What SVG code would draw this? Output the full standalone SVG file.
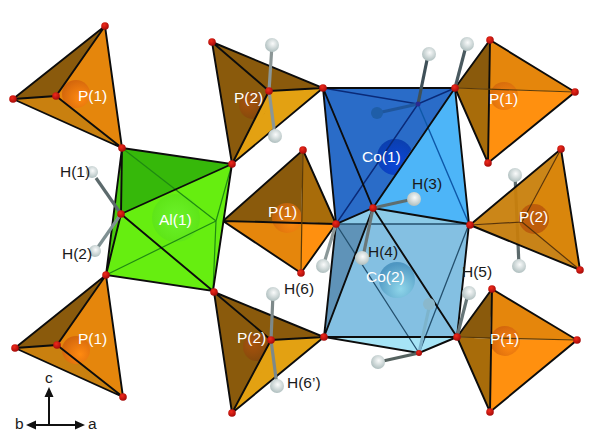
<svg xmlns="http://www.w3.org/2000/svg" width="600" height="437" viewBox="0 0 600 437">
<style>
text{font-family:"Liberation Sans",Arial,sans-serif;font-size:15.500px}
.w{fill:#fff}.k{fill:#1a1a1a}
.l{fill:none;stroke:#0c0c0c;stroke-width:1.900;stroke-linecap:round}
.d{fill:#8a5a0c}.m{fill:#c9800f}.o{fill:#e5860c}.b{fill:#ff900f}.g{fill:#e3a112}.n{fill:#a86c0a}
.v{fill:url(#red)}
.h{fill:url(#hyd)}
.rod{fill:none;stroke:#5c6a6c;stroke-width:3.200;stroke-linecap:butt}
</style>
<defs>
<radialGradient id="red" cx=".4" cy=".35" r=".7"><stop offset="0" stop-color="#f02a1a"/><stop offset="1" stop-color="#a00808"/></radialGradient>
<radialGradient id="hyd" cx=".55" cy=".4" r=".65"><stop offset="0" stop-color="#fafbfb"/><stop offset="1" stop-color="#a9baba"/></radialGradient>
<radialGradient id="po" cx=".65" cy=".65" r=".7"><stop offset="0" stop-color="#ff8a10"/><stop offset="1" stop-color="#d2650c"/></radialGradient>
<radialGradient id="pd" cx=".35" cy=".4" r=".75"><stop offset="0" stop-color="#a8520c"/><stop offset="1" stop-color="#7d480c"/></radialGradient>
<radialGradient id="al" cx=".5" cy=".5" r=".55"><stop offset="0" stop-color="#6cf22a"/><stop offset="1" stop-color="#5de416"/></radialGradient>
<radialGradient id="co1" cx=".55" cy=".7" r=".7"><stop offset="0" stop-color="#0c46d8"/><stop offset="1" stop-color="#0b3fae"/></radialGradient>
<radialGradient id="co2" cx=".6" cy=".75" r=".7"><stop offset="0" stop-color="#8fd6ea"/><stop offset="1" stop-color="#4f97c2"/></radialGradient>
</defs>

<g id="P1-top-left">
<polygon class="d" points="13,99 105,26 56,96"/>
<polygon class="m" points="13,99 56,96 122,148"/>
<polygon class="o" points="105,26 122,148 56,96"/>
<circle cx="76" cy="94" r="14" fill="url(#po)"/>
<path class="l" d="M13,99L105,26L122,148L13,99M13,99L56,96L105,26M56,96L122,148"/>
<text class="w" x="78" y="101">P(1)</text>
</g>

<g id="P1-bottom-left">
<polygon class="d" points="15,348 106,275 57,345"/>
<polygon class="m" points="15,348 57,345 123,397"/>
<polygon class="o" points="106,275 123,397 57,345"/>
<circle cx="76" cy="350" r="14" fill="url(#po)"/>
<path class="l" d="M15,348L106,275L123,397L15,348M15,348L57,345L106,275M57,345L123,397"/>
<text class="w" x="78" y="344">P(1)</text>
</g>

<g id="P2-top">
<polygon class="d" points="212,42 323,88 269,91"/>
<polygon class="d" points="212,42 269,91 232,164"/>
<polygon class="g" points="269,91 323,88 232,164"/>
<circle cx="253" cy="105" r="14" fill="url(#pd)"/>
<polygon class="g" points="269,91 280,90 232,164"/>
<path class="l" d="M212,42L323,88L232,164L212,42M212,42L269,91L323,88M269,91L232,164"/>
<text class="w" x="234" y="103">P(2)</text>
</g>

<g id="P2-bottom">
<polygon class="d" points="214,292 324,337 271,340"/>
<polygon class="d" points="214,292 271,340 232,413"/>
<polygon class="g" points="271,340 324,337 232,413"/>
<circle cx="257" cy="347" r="14" fill="url(#pd)"/>
<polygon class="g" points="271,340 285,339 232,413"/>
<path class="l" d="M214,292L324,337L232,413L214,292M214,292L271,340L324,337M271,340L232,413"/>
<text class="w" x="237" y="343">P(2)</text>
</g>

<g id="P1-middle">
<polygon class="d" points="223,221 303,150 301,222"/>
<polygon class="n" points="303,150 336,224 301,222"/>
<polygon class="o" points="223,221 301,222 301,273"/>
<polygon class="b" points="301,222 336,224 301,273"/>
<circle cx="287" cy="218" r="15" fill="url(#po)" opacity=".75"/>
<path class="l" d="M223,221L303,150L336,224L301,273L223,221M223,221L336,224"/>
<path class="l" style="stroke-width:1.200;stroke:#5a3a08" d="M303,150L301,273"/>
<text class="w" x="268" y="217">P(1)</text>
</g>

<g id="P1-right-top">
<polygon class="d" points="455,88 490,40 489,89"/>
<polygon class="o" points="490,40 575,92 489,89"/>
<polygon class="n" points="455,88 489,89 488,163"/>
<polygon class="b" points="489,89 575,92 488,163"/>
<circle cx="504" cy="96" r="14" fill="url(#po)" opacity=".8"/>
<path class="l" d="M455,88L490,40L575,92L488,163L455,88M490,40L488,163"/>
<path class="l" style="stroke-width:1.200;stroke:#5a3a08" d="M455,88L575,92"/>
<text class="w" x="489" y="104">P(1)</text>
</g>

<g id="P1-right-bottom">
<polygon class="d" points="457,337 492,289 490,339"/>
<polygon class="o" points="492,289 577,340 490,339"/>
<polygon class="n" points="457,337 490,339 490,412"/>
<polygon class="b" points="490,339 577,340 490,412"/>
<circle cx="505" cy="341" r="15" fill="url(#po)"/>
<path class="l" d="M457,337L492,289L577,340L490,412L457,337M492,289L490,412"/>
<path class="l" style="stroke-width:1.200;stroke:#5a3a08" d="M457,337L577,340"/>
<text class="w" x="490" y="344">P(1)</text>
</g>

<g id="H-behind-P2-right">
<path class="rod" d="M515,175L519,266"/>
<circle class="h" cx="515" cy="175" r="7"/>
<circle class="h" cx="519" cy="266" r="7"/>
</g>

<g id="P2-right">
<polygon fill="#c8800c" opacity=".95" points="470,225 561,149 522,222"/>
<polygon fill="#d9860c" points="561,149 580,270 522,222"/>
<polygon fill="#c57c0c" opacity=".95" points="470,225 522,222 580,270"/>
<circle cx="534" cy="219" r="15" fill="#b8560c" opacity=".85"/>
<path class="l" d="M470,225L561,149L580,270L470,225"/>
<path class="l" style="stroke-width:1.200;stroke:#5a3408" d="M470,225L522,222L561,149M522,222L580,270"/>
<text class="w" x="519" y="222">P(2)</text>
</g>

<g id="Al1">
<polygon fill="#66ee10" points="232,164 213,291 106,275 121,214"/>
<polygon fill="#36b80a" points="122,148 232,164 121,214"/>
<polygon fill="#48c80e" points="122,148 121,214 106,275"/>
<circle cx="176" cy="218" r="24" fill="url(#al)"/>
<path class="l" style="stroke-width:1.200;stroke:#1f8a12" d="M122,148L216,221M106,275L216,221M232,164L216,221M213,291L216,221"/>
<path class="l" d="M122,148L232,164L213,291L106,275L122,148M121,214L232,164M121,214L213,291M121,214L122,148M121,214L106,275"/>
<text class="w" x="159" y="225">Al(1)</text>
</g>

<g id="Co2">
<polygon fill="#a6e4f6" points="336,224 469,224 457,337 419,353 324,337"/>
<polygon fill="#84c0e2" points="336,224 469,224 457,337 324,337"/>
<polygon fill="#5f93b8" points="336,224 373,208 324,337"/>
<polygon fill="#8ccbe8" points="373,208 336,224 469,224"/>
<circle cx="397" cy="280" r="18" fill="url(#co2)"/>
<path class="l" style="stroke-width:1.300;stroke:#24506e" d="M336,224L419,353M469,224L419,353M336,224L469,224"/>
<path class="l" d="M336,224L324,337L419,353L457,337L469,224M324,337L457,337M373,208L324,337M373,208L457,337"/>
<text class="w" x="366" y="282">Co(2)</text>
</g>

<g id="Co1">
<polygon fill="#2a6cc8" points="323,88 455,88 373,208 336,224"/>
<polygon fill="#4db5f8" points="455,88 469,224 373,208"/>
<circle cx="395" cy="157" r="18" fill="url(#co1)"/>
<polygon fill="#4db5f8" points="455,88 469,224 373,208 414,146"/>
<path class="l" style="stroke-width:1.400;stroke:#0a2a78" d="M323,88L418,104L455,88M418,104L336,224"/>
<path class="l" style="stroke-width:1.400;stroke:#0e58a8" d="M418,104L469,224"/>
<path class="l" d="M323,88L455,88L469,224L373,208L336,224L323,88M323,88L373,208L455,88"/>
<text class="w" x="362" y="162">Co(1)</text>
</g>

<g id="connectors">
<path class="rod" d="M272,45L269,91L275,136" style="stroke:#8b9696"/>
<path class="rod" d="M273,294L271,340L277,386" style="stroke:#7d898a"/>
<path class="rod" d="M96,178L121,214"/>
<path class="rod" d="M98,247L121,214" style="stroke:#7f9092"/>
<path class="rod" d="M427,60L418,104" style="stroke:#3f5058"/>
<path class="rod" d="M465,50L455,88" style="stroke:#4a5a60"/>
<path class="rod" d="M382,112L418,104" style="stroke:#1f569c"/>
<path class="rod" d="M409,200L373,208" style="stroke:#5e6e70"/>
<path class="rod" d="M364,252L373,208" style="stroke:#6b7778"/>
<path class="rod" d="M325,260L336,224" style="stroke:#8b9899"/>
<path class="rod" d="M467,298L457,337" style="stroke:#667577"/>
<path class="rod" d="M429,308L419,353" style="stroke:#7db4cc"/>
<path class="rod" d="M383,361L419,353" style="stroke:#55625f"/>
</g>

<g id="hydrogens">
<circle class="h" cx="272" cy="45" r="7"/>
<circle class="h" cx="275" cy="136" r="7"/>
<circle class="h" cx="273" cy="294" r="7"/>
<circle class="h" cx="277" cy="386" r="7"/>
<circle class="h" cx="92" cy="172" r="6"/>
<circle class="h" cx="95" cy="251" r="6"/>
<circle class="h" cx="429" cy="54" r="7"/>
<circle class="h" cx="467" cy="44" r="7"/>
<circle cx="377" cy="113" r="6" fill="#1f5ea8"/>
<circle class="h" cx="414" cy="199" r="7"/>
<circle class="h" cx="362" cy="258" r="7"/>
<circle class="h" cx="323" cy="266" r="7"/>
<circle class="h" cx="469" cy="293" r="7"/>
<circle cx="429" cy="304" r="6" fill="#8ab8cc"/>
<circle class="h" cx="378" cy="362" r="7"/>
</g>

<g id="oxygens">
<circle class="v" cx="105" cy="26" r="3.800"/><circle class="v" cx="13" cy="99" r="3.800"/><circle class="v" cx="56" cy="96" r="3.800"/><circle class="v" cx="122" cy="148" r="3.800"/>
<circle class="v" cx="106" cy="275" r="3.800"/><circle class="v" cx="15" cy="348" r="3.800"/><circle class="v" cx="57" cy="345" r="3.800"/><circle class="v" cx="123" cy="397" r="3.800"/>
<circle class="v" cx="212" cy="42" r="3.800"/><circle class="v" cx="269" cy="91" r="3.800"/><circle class="v" cx="323" cy="88" r="3.800"/><circle class="v" cx="232" cy="164" r="3.800"/>
<circle class="v" cx="214" cy="292" r="3.800"/><circle class="v" cx="271" cy="340" r="3.800"/><circle class="v" cx="324" cy="337" r="3.800"/><circle class="v" cx="232" cy="413" r="3.800"/>
<circle class="v" cx="303" cy="150" r="3.800"/><circle class="v" cx="336" cy="224" r="3.800"/><circle class="v" cx="301" cy="273" r="3.800"/>
<circle class="v" cx="455" cy="88" r="3.800"/><circle class="v" cx="490" cy="40" r="3.800"/><circle class="v" cx="575" cy="92" r="3.800"/><circle class="v" cx="488" cy="163" r="3.800"/>
<circle class="v" cx="457" cy="337" r="3.800"/><circle class="v" cx="492" cy="289" r="3.800"/><circle class="v" cx="577" cy="340" r="3.800"/><circle class="v" cx="490" cy="412" r="3.800"/>
<circle class="v" cx="470" cy="225" r="3.800"/><circle class="v" cx="561" cy="149" r="3.800"/><circle class="v" cx="580" cy="270" r="3.800"/>
<circle class="v" cx="121" cy="214" r="3.800"/><circle class="v" cx="373" cy="208" r="3.800"/><circle class="v" cx="419" cy="353" r="3"/>
<circle cx="418" cy="104" r="2.500" fill="#2a2a90"/>
</g>

<g id="labels">
<text class="k" x="60" y="177">H(1)</text>
<text class="k" x="62" y="259">H(2)</text>
<text class="k" x="412" y="189">H(3)</text>
<text class="k" x="368" y="257">H(4)</text>
<text class="k" x="462" y="277">H(5)</text>
<text class="k" x="284" y="294">H(6)</text>
<text class="k" x="287" y="388">H(6’)</text>
</g>

<g id="axes">
<path d="M49,425V392M32,425H79" fill="none" stroke="#111" stroke-width="2"/>
<path d="M49,387l-4.500,10h9zM26,425l10,-4.500v9zM85,425l-10,-4.500v9z" fill="#111"/>
<text class="k" x="45" y="383">c</text>
<text class="k" x="15" y="429">b</text>
<text class="k" x="88" y="429">a</text>
</g>
</svg>
